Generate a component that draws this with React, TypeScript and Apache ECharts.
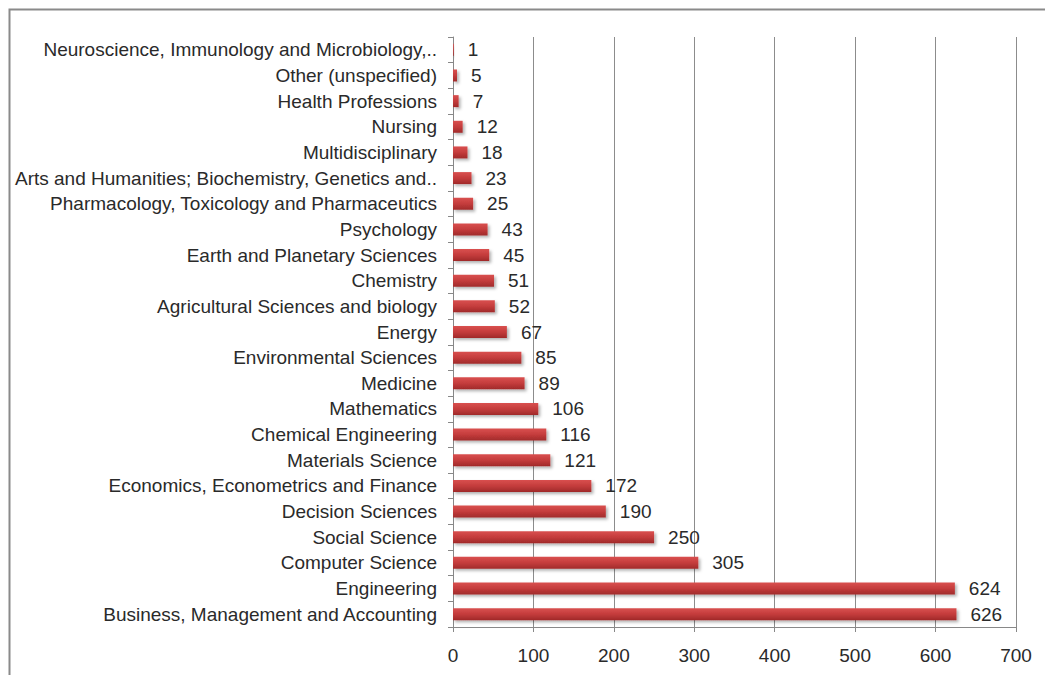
import React, { useEffect, useRef } from "react";
import * as echarts from "echarts";

const categories = [
  "Business, Management and Accounting",
  "Engineering",
  "Computer Science",
  "Social Science",
  "Decision Sciences",
  "Economics, Econometrics and Finance",
  "Materials Science",
  "Chemical Engineering",
  "Mathematics",
  "Medicine",
  "Environmental Sciences",
  "Energy",
  "Agricultural Sciences and biology",
  "Chemistry",
  "Earth and Planetary Sciences",
  "Psychology",
  "Pharmacology, Toxicology and Pharmaceutics",
  "Arts and Humanities; Biochemistry, Genetics and..",
  "Multidisciplinary",
  "Nursing",
  "Health Professions",
  "Other (unspecified)",
  "Neuroscience, Immunology and Microbiology,..",
];
const values = [626, 624, 305, 250, 190, 172, 121, 116, 106, 89, 85, 67, 52, 51, 45, 43, 25, 23, 18, 12, 7, 5, 1];
const xTicks = [0, 700, 100];

const FONT = "'Liberation Sans', Arial, sans-serif";

export default function App() {
  const ref = useRef<HTMLDivElement>(null);
  useEffect(() => {
    const chart = echarts.init(ref.current!, undefined, { renderer: "svg" });
    chart.setOption({
      animation: false,
      backgroundColor: "#ffffff",
      grid: { left: 453, right: 29, top: 37, bottom: 48, containLabel: false },
      graphic: [
        {
          type: "rect",
          shape: { x: 9.5, y: 9.5, width: 1100, height: 720 },
          style: { fill: "none", stroke: "#8a8a8a", lineWidth: 2 },
          silent: true,
        },
      ],
      xAxis: {
        type: "value",
        min: xTicks[0],
        max: xTicks[1],
        interval: xTicks[2],
        axisLine: { show: true, lineStyle: { color: "#888888", width: 1 } },
        axisTick: { show: true, length: 5, lineStyle: { color: "#888888" } },
        axisLabel: { color: "#2a2a2a", fontSize: 19, fontFamily: FONT, margin: 19 },
        splitLine: { show: true, lineStyle: { color: "#8c8c8c", width: 1 } },
      },
      yAxis: {
        type: "category",
        data: categories,
        axisLine: { show: true, lineStyle: { color: "#888888", width: 1 } },
        axisTick: { show: true, length: 5, alignWithLabel: false, lineStyle: { color: "#888888" } },
        axisLabel: { color: "#2a2a2a", fontSize: 19, fontFamily: FONT, margin: 16, padding: [3, 0, 0, 0] },
        splitLine: { show: false },
      },
      series: [
        {
          type: "bar",
          data: values,
          barWidth: 12,
          itemStyle: {
            color: new echarts.graphic.LinearGradient(0, 0, 0, 1, [
              { offset: 0, color: "#d9504f" },
              { offset: 0.5, color: "#c43c3c" },
              { offset: 1, color: "#a02a2a" },
            ]),
            shadowColor: "rgba(0,0,0,0.3)",
            shadowBlur: 3,
            shadowOffsetX: 2,
            shadowOffsetY: 2,
          },
          label: {
            show: true,
            position: "right",
            distance: 14,
            color: "#2a2a2a",
            fontSize: 19,
            fontFamily: FONT,
            padding: [3, 0, 0, 0],
          },
        },
      ],
    });
    return () => chart.dispose();
  }, []);
  return (
    <div
      ref={ref}
      style={{ position: "fixed", left: 0, top: 0, width: 1045, height: 675 }}
    />
  );
}
